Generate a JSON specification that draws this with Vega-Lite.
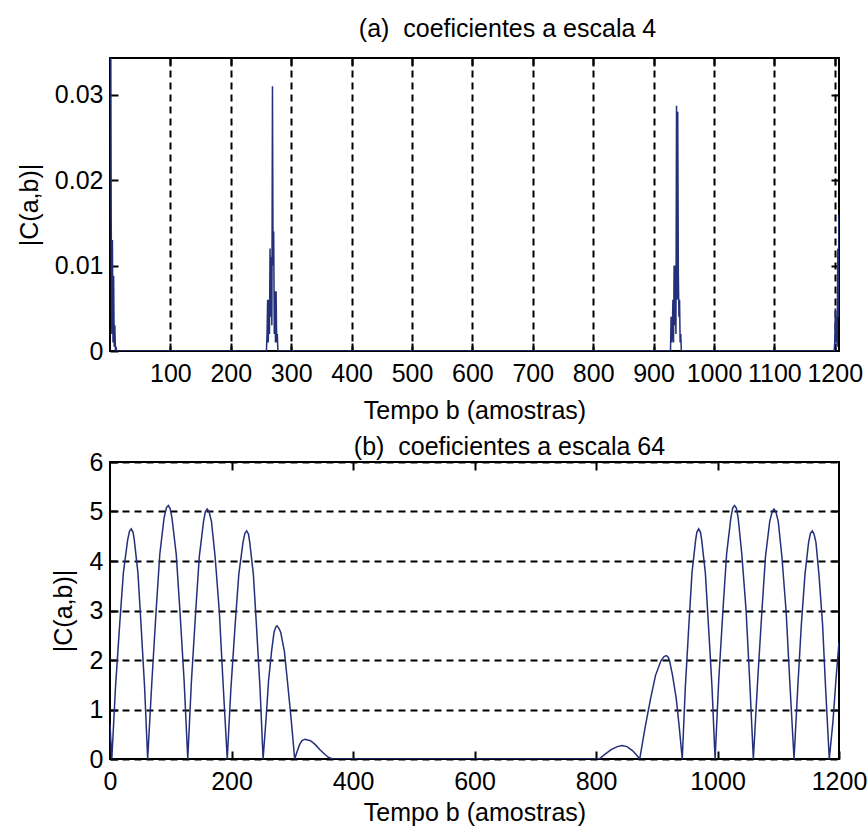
{
  "$schema": "https://vega.github.io/schema/vega-lite/v6.json",
  "background": "white",
  "padding": {"left": 16, "top": 16, "right": 0, "bottom": 0},
  "spacing": 10,
  "datasets": {
    "a": [
      {"b": 1, "c": 0.045}, {"b": 2, "c": 0.0155}, {"b": 3, "c": 0.002}, {"b": 4, "c": 0.013}, {"b": 5, "c": 0.001},
      {"b": 6, "c": 0.0088}, {"b": 7, "c": 0.0005}, {"b": 8, "c": 0.003}, {"b": 9, "c": 0}, {"b": 10, "c": 0.0005}, {"b": 11, "c": 0},
      {"b": 259, "c": 0}, {"b": 260, "c": 0.002}, {"b": 261, "c": 0.006}, {"b": 262, "c": 0.001}, {"b": 263, "c": 0.006},
      {"b": 264, "c": 0.002}, {"b": 265, "c": 0.012}, {"b": 266, "c": 0.004}, {"b": 267, "c": 0.011}, {"b": 268, "c": 0.003},
      {"b": 269, "c": 0.031}, {"b": 270, "c": 0.01}, {"b": 271, "c": 0.014}, {"b": 272, "c": 0.002}, {"b": 273, "c": 0.007},
      {"b": 274, "c": 0.001}, {"b": 275, "c": 0.007}, {"b": 276, "c": 0.001}, {"b": 277, "c": 0.002}, {"b": 278, "c": 0},
      {"b": 928, "c": 0}, {"b": 929, "c": 0.004}, {"b": 930, "c": 0.001}, {"b": 931, "c": 0.002}, {"b": 932, "c": 0.006},
      {"b": 933, "c": 0.001}, {"b": 934, "c": 0.01}, {"b": 935, "c": 0.003}, {"b": 936, "c": 0.01}, {"b": 937, "c": 0.002},
      {"b": 938, "c": 0.0287}, {"b": 939, "c": 0.006}, {"b": 940, "c": 0.028}, {"b": 941, "c": 0.009}, {"b": 942, "c": 0.004},
      {"b": 943, "c": 0.006}, {"b": 944, "c": 0.001}, {"b": 945, "c": 0.002}, {"b": 946, "c": 0},
      {"b": 1199, "c": 0}, {"b": 1200, "c": 0.001}, {"b": 1201, "c": 0.005}, {"b": 1202, "c": 0.001}, {"b": 1203, "c": 0.004},
      {"b": 1204, "c": 0.0005}, {"b": 1205, "c": 0.012}, {"b": 1206, "c": 0.004}, {"b": 1207, "c": 0.016}
    ],
    "b": [
      {"b": 0, "c": 0.7}, {"b": 3, "c": 0}, {"b": 9, "c": 1.44}, {"b": 16, "c": 2.73}, {"b": 22, "c": 3.76}, {"b": 29, "c": 4.42},
      {"b": 32, "c": 4.6}, {"b": 35, "c": 4.65}, {"b": 38, "c": 4.58}, {"b": 40, "c": 4.42}, {"b": 46, "c": 3.76}, {"b": 51, "c": 2.73}, {"b": 57, "c": 1.44}, {"b": 62, "c": 0},
      {"b": 69, "c": 1.58}, {"b": 76, "c": 3.01}, {"b": 82, "c": 4.14}, {"b": 89, "c": 4.87}, {"b": 93, "c": 5.08}, {"b": 96, "c": 5.12},
      {"b": 99, "c": 5.06}, {"b": 102, "c": 4.87}, {"b": 109, "c": 4.14}, {"b": 115, "c": 3.01}, {"b": 122, "c": 1.58}, {"b": 128, "c": 0},
      {"b": 134, "c": 1.56}, {"b": 141, "c": 2.97}, {"b": 147, "c": 4.09}, {"b": 154, "c": 4.8}, {"b": 157, "c": 5.0}, {"b": 160, "c": 5.05},
      {"b": 163, "c": 5.0}, {"b": 167, "c": 4.8}, {"b": 173, "c": 4.09}, {"b": 180, "c": 2.97}, {"b": 186, "c": 1.56}, {"b": 193, "c": 0},
      {"b": 199, "c": 1.42}, {"b": 206, "c": 2.71}, {"b": 212, "c": 3.73}, {"b": 219, "c": 4.38}, {"b": 222, "c": 4.56}, {"b": 225, "c": 4.61},
      {"b": 228, "c": 4.54}, {"b": 230, "c": 4.38}, {"b": 236, "c": 3.73}, {"b": 241, "c": 2.71}, {"b": 247, "c": 1.42}, {"b": 252, "c": 0},
      {"b": 257, "c": 0.83}, {"b": 261, "c": 1.58}, {"b": 266, "c": 2.18}, {"b": 270, "c": 2.56}, {"b": 273, "c": 2.67}, {"b": 275, "c": 2.69},
      {"b": 278, "c": 2.64}, {"b": 281, "c": 2.56}, {"b": 287, "c": 2.18}, {"b": 292, "c": 1.58}, {"b": 298, "c": 0.83}, {"b": 304, "c": 0},
      {"b": 308, "c": 0.15}, {"b": 312, "c": 0.29}, {"b": 316, "c": 0.37}, {"b": 321, "c": 0.4}, {"b": 330, "c": 0.37},
      {"b": 338, "c": 0.29}, {"b": 346, "c": 0.18}, {"b": 354, "c": 0.09}, {"b": 360, "c": 0.03}, {"b": 367, "c": 0},
      {"b": 805, "c": 0}, {"b": 815, "c": 0.1}, {"b": 825, "c": 0.19}, {"b": 835, "c": 0.25}, {"b": 843, "c": 0.27},
      {"b": 851, "c": 0.25}, {"b": 860, "c": 0.17}, {"b": 866, "c": 0.09}, {"b": 872, "c": 0},
      {"b": 881, "c": 0.65}, {"b": 890, "c": 1.23}, {"b": 898, "c": 1.69}, {"b": 907, "c": 1.99}, {"b": 912, "c": 2.07}, {"b": 916, "c": 2.09},
      {"b": 919, "c": 2.05}, {"b": 921, "c": 1.99}, {"b": 926, "c": 1.69}, {"b": 932, "c": 1.23}, {"b": 937, "c": 0.65}, {"b": 942, "c": 0},
      {"b": 947, "c": 1.44}, {"b": 953, "c": 2.73}, {"b": 958, "c": 3.76}, {"b": 964, "c": 4.42}, {"b": 966, "c": 4.58}, {"b": 969, "c": 4.65},
      {"b": 972, "c": 4.58}, {"b": 974, "c": 4.42}, {"b": 980, "c": 3.76}, {"b": 985, "c": 2.73}, {"b": 991, "c": 1.44}, {"b": 996, "c": 0},
      {"b": 1002, "c": 1.58}, {"b": 1009, "c": 3.01}, {"b": 1015, "c": 4.14}, {"b": 1022, "c": 4.87}, {"b": 1025, "c": 5.07}, {"b": 1028, "c": 5.12},
      {"b": 1031, "c": 5.07}, {"b": 1034, "c": 4.87}, {"b": 1040, "c": 4.14}, {"b": 1047, "c": 3.01}, {"b": 1053, "c": 1.58}, {"b": 1059, "c": 0},
      {"b": 1066, "c": 1.56}, {"b": 1073, "c": 2.97}, {"b": 1079, "c": 4.09}, {"b": 1086, "c": 4.8}, {"b": 1090, "c": 5.0}, {"b": 1093, "c": 5.05},
      {"b": 1096, "c": 5.0}, {"b": 1100, "c": 4.8}, {"b": 1106, "c": 4.09}, {"b": 1113, "c": 2.97}, {"b": 1119, "c": 1.56}, {"b": 1126, "c": 0},
      {"b": 1132, "c": 1.42}, {"b": 1138, "c": 2.71}, {"b": 1144, "c": 3.73}, {"b": 1150, "c": 4.38}, {"b": 1153, "c": 4.56}, {"b": 1156, "c": 4.61},
      {"b": 1159, "c": 4.54}, {"b": 1162, "c": 4.38}, {"b": 1167, "c": 3.73}, {"b": 1173, "c": 2.71}, {"b": 1178, "c": 1.42}, {"b": 1184, "c": 0},
      {"b": 1190, "c": 0.75}, {"b": 1195, "c": 1.6}, {"b": 1200, "c": 2.36}
    ]
  },
  "config": {
    "font": "Liberation Sans",
    "view": {"stroke": "black", "strokeWidth": 2},
    "axis": {
      "labelFont": "Liberation Sans", "labelFontSize": 25, "labelColor": "black", "labelFlush": false,
      "titleFont": "Liberation Sans", "titleFontSize": 25, "titleFontWeight": "normal", "titleColor": "black",
      "tickColor": "black", "tickWidth": 2, "tickSize": -8, "domain": false,
      "gridColor": "black", "gridDash": [7, 5], "gridWidth": 2, "gridOpacity": 1
    },
    "axisX": {"labelPadding": 18},
    "axisY": {"labelPadding": 15},
    "title": {"font": "Liberation Sans", "fontSize": 25, "fontWeight": "normal", "color": "black", "baseline": "alphabetic"}
  },
  "vconcat": [
    {
      "width": 729, "height": 293,
      "title": {"text": "(a)\u00a0 coeficientes a escala 4", "dx": 33, "offset": 15},
      "data": {"name": "a"},
      "layer": [
        {
          "mark": {"type": "line", "color": "#25307a", "strokeWidth": 1.5, "clip": true},
          "encoding": {
            "x": {"field": "b", "type": "quantitative", "scale": {"domain": [0, 1207], "nice": false, "zero": false},
              "axis": {"orient": "bottom", "values": [100, 200, 300, 400, 500, 600, 700, 800, 900, 1000, 1100, 1200], "format": "d", "grid": true, "title": "Tempo b (amostras)", "titlePadding": 12}},
            "y": {"field": "c", "type": "quantitative", "scale": {"domain": [0, 0.0343], "nice": false, "zero": false},
              "axis": {"orient": "left", "values": [0, 0.01, 0.02, 0.03], "format": ".2~f", "grid": false, "title": "|C(a,b)|", "titlePadding": 12}}
          }
        },
        {
          "mark": {"type": "line", "opacity": 0, "clip": true},
          "encoding": {
            "x": {"field": "b", "type": "quantitative", "scale": {"domain": [0, 1207], "nice": false, "zero": false},
              "axis": {"orient": "top", "values": [100, 200, 300, 400, 500, 600, 700, 800, 900, 1000, 1100, 1200], "labels": false, "grid": false, "title": null}},
            "y": {"field": "c", "type": "quantitative", "scale": {"domain": [0, 0.0343], "nice": false, "zero": false},
              "axis": {"orient": "right", "values": [0.01, 0.02, 0.03], "labels": false, "grid": false, "title": null}}
          }
        }
      ],
      "resolve": {"axis": {"x": "independent", "y": "independent"}}
    },
    {
      "width": 729, "height": 297,
      "title": {"text": "(b)\u00a0 coeficientes a escala 64", "dx": 35, "offset": -10},
      "data": {"name": "b"},
      "layer": [
        {
          "mark": {"type": "line", "color": "#25307a", "strokeWidth": 1.5, "clip": true},
          "encoding": {
            "x": {"field": "b", "type": "quantitative", "scale": {"domain": [0, 1200], "nice": false, "zero": false},
              "axis": {"orient": "bottom", "values": [0, 200, 400, 600, 800, 1000, 1200], "format": "d", "grid": false, "title": "Tempo b (amostras)", "titlePadding": 6}},
            "y": {"field": "c", "type": "quantitative", "scale": {"domain": [0, 6], "nice": false, "zero": false},
              "axis": {"orient": "left", "values": [0, 1, 2, 3, 4, 5, 6], "format": "d", "grid": true, "title": "|C(a,b)|", "titlePadding": 13}}
          }
        },
        {
          "mark": {"type": "line", "opacity": 0, "clip": true},
          "encoding": {
            "x": {"field": "b", "type": "quantitative", "scale": {"domain": [0, 1200], "nice": false, "zero": false},
              "axis": {"orient": "top", "values": [200, 400, 600, 800, 1000], "labels": false, "grid": false, "title": null}},
            "y": {"field": "c", "type": "quantitative", "scale": {"domain": [0, 6], "nice": false, "zero": false},
              "axis": {"orient": "right", "values": [1, 2, 3, 4, 5], "labels": false, "grid": false, "title": null}}
          }
        }
      ],
      "resolve": {"axis": {"x": "independent", "y": "independent"}}
    }
  ]
}
